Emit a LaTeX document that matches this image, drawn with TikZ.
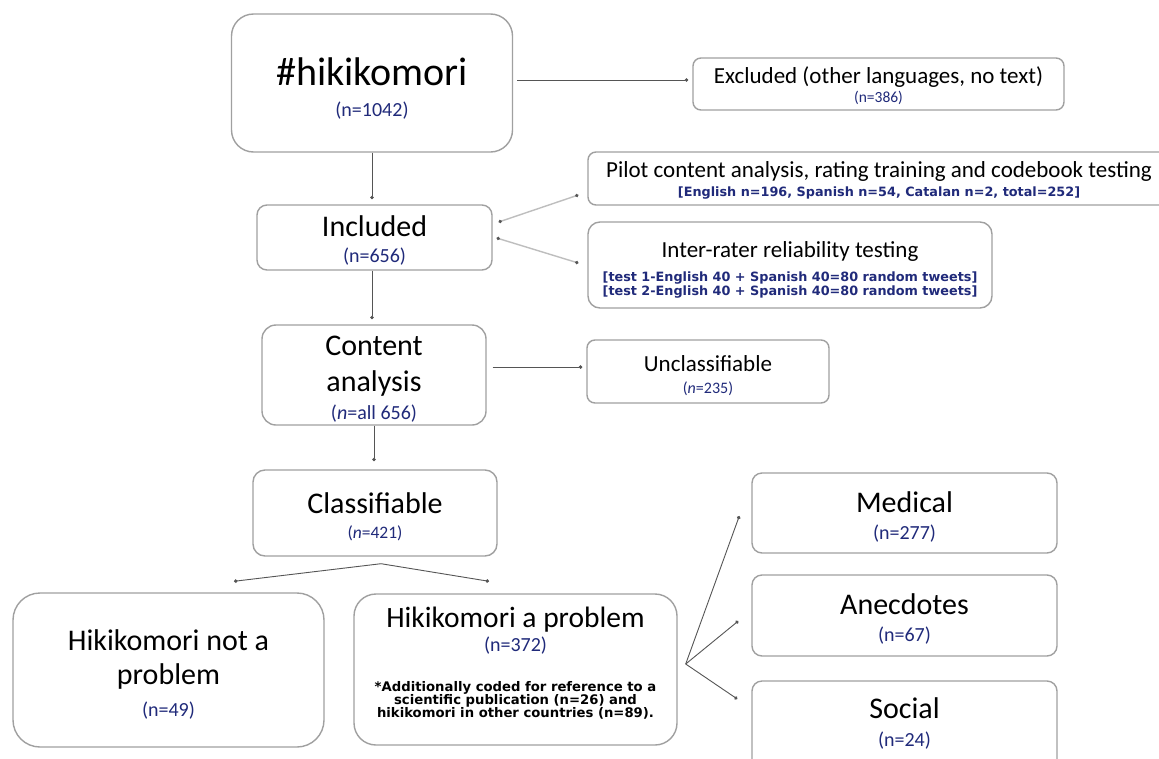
\documentclass[tikz,border=0pt]{standalone}
\usepackage{fontspec}
\setmainfont{Carlito}
\newfontfamily\dvs{DejaVu Sans}
\usetikzlibrary{arrows.meta,calc}
\definecolor{nblue}{RGB}{32,42,122}
\definecolor{bordergray}{RGB}{160,160,160}
\definecolor{linegray}{RGB}{85,85,85}
\definecolor{lightline}{RGB}{190,190,190}
\newcommand\fsz[2]{\fontsize{#1}{#2}\selectfont}
\newcommand\tightlines{\lineskiplimit=-100pt\relax\lineskip=0pt\relax}
\newcommand\nb{\color{nblue}}
\newcommand\bigt{\fsz{30}{30}}
\newcommand\midt{\fsz{23}{23}}
\newcommand\nbig{\fsz{20}{20}\nb}
\newcommand\subt{\dvs\bfseries\fsz{12.8}{12.8}\nb}
\newcommand\notet{\dvs\bfseries\fsz{13.2}{13.2}}
\tikzset{
  box/.style={draw=bordergray, line width=1.4pt, fill=white, rounded corners=10pt,
    align=center, inner sep=0pt, text=black, font=\fsz{10}{0},
    execute at begin node=\tightlines},
  conn/.style={draw=linegray, line width=0.9pt, -{Circle[length=3.5pt]}},
  lconn/.style={draw=lightline, line width=1.4pt,
    {Circle[length=3.2pt,color=linegray]}-{Circle[length=3.2pt,color=linegray]}},
}
\begin{document}
\begin{tikzpicture}[x=1pt,y=-1pt]
\useasboundingbox (0,0) rectangle (1159,758);
\clip (0,0) rectangle (1159,758);
\fill[white] (0,0) rectangle (1159,758);

\node[box, rounded corners=22pt, minimum width=281pt, minimum height=138pt] (hik) at (372,83)
  {\mbox{}\\[35pt]\fsz{40}{40}\#hikikomori\\[31pt]\nbig(n=1042)\\[0pt]\mbox{}};
\node[box, rounded corners=8pt, minimum width=371pt, minimum height=52pt] (exc) at (878.5,84)
  {\mbox{}\\[17pt]\midt Excluded (other languages, no text)\\[19pt]\fsz{15.5}{15.5}\nb(n=386)\\[0pt]\mbox{}};
\node[box, rounded corners=8pt, minimum width=582pt, minimum height=53pt] (pilot) at (879,178.5)
  {\mbox{}\\[16pt]\midt Pilot content analysis, rating training and codebook testing\\[19pt]\subt[English n=196, Spanish n=54, Catalan n=2, total=252]\\[0pt]\mbox{}};
\node[box, minimum width=235pt, minimum height=65pt] (inc) at (374.5,237.5)
  {\mbox{}\\[23pt]\bigt Included\\[26pt]\nbig(n=656)\\[0pt]\mbox{}};
\node[box, rounded corners=12pt, minimum width=404pt, minimum height=86pt] (inter) at (790,265)
  {\mbox{}\\[22pt]\midt Inter-rater reliability testing\\[24pt]\subt[test 1-English 40 + Spanish 40=80 random tweets]\\[14pt]\subt[test 2-English 40 + Spanish 40=80 random tweets]\\[0pt]\mbox{}};
\node[box, rounded corners=14pt, minimum width=224pt, minimum height=100pt] (content) at (374,375)
  {\mbox{}\\[24pt]\bigt Content\\[36pt]\bigt analysis\\[28pt]\nbig(\textit{n}=all 656)\\[0pt]\mbox{}};
\node[box, rounded corners=8pt, minimum width=242pt, minimum height=63pt] (uncl) at (708,371.5)
  {\mbox{}\\[21pt]\midt Unclassifiable\\[22pt]\fsz{16}{16}\nb(\textit{n}=235)\\[0pt]\mbox{}};
\node[box, rounded corners=12pt, minimum width=244pt, minimum height=86pt] (class) at (375,513)
  {\mbox{}\\[25pt]\bigt Classifiable\\[25pt]\fsz{17.5}{17.5}\nb(\textit{n}=421)\\[0pt]\mbox{}};
\node[box, rounded corners=27pt, minimum width=311pt, minimum height=154pt] (notp) at (168.5,670)
  {\mbox{}\\[26pt]\bigt Hikikomori not a\\[34pt]\bigt problem\\[32pt]\nbig(n=49)\\[0pt]\mbox{}};
\node[box, rounded corners=22pt, minimum width=323pt, minimum height=151pt] (prob) at (515.5,669.5)
  {\mbox{}\\[5pt]\fsz{29.5}{29.5}Hikikomori a problem\\[24pt]\nbig(n=372)\\[40pt]\notet*Additionally coded for reference to a\\[13pt]\notet scientific publication (n=26) and\\[13pt]\notet hikikomori in other countries (n=89).\\[0pt]\mbox{}};
\node[box, minimum width=305pt, minimum height=80pt] (med) at (904.5,513)
  {\mbox{}\\[25pt]\bigt Medical\\[27pt]\nbig(n=277)\\[0pt]\mbox{}};
\node[box, minimum width=305pt, minimum height=81pt] (anec) at (904.5,615.5)
  {\mbox{}\\[24pt]\bigt Anecdotes\\[27pt]\nbig(n=67)\\[0pt]\mbox{}};
\node[box, minimum width=305pt, minimum height=88pt] (soc) at (904.5,725)
  {\mbox{}\\[14pt]\bigt Social\\[28pt]\nbig(n=24)\\[0pt]\mbox{}};

% connectors
\draw[conn, shorten <=4pt, shorten >=4pt] ($(hik.east |- exc.west)+(0,-4)$) -- ($(exc.west)+(0,-4)$);
\draw[conn, shorten >=5pt] (hik.south) -- (hik.south |- inc.north);
\draw[conn, shorten >=5pt] (inc.south -| hik.south) -- (content.north -| hik.south);
\draw[lconn] ($(pilot.west)+(-9,16.5)$) -- ($(inc.east)+(6,-15.5)$);
\draw[lconn] ($(inter.west)+(-9,-2)$) -- ($(inc.east)+(4,0.5)$);
\draw[conn, shorten <=6pt, shorten >=4pt] ($(content.east |- uncl.west)+(0,-4.5)$) -- ($(uncl.west)+(0,-4.5)$);
\draw[conn, shorten >=8pt] (content.south) -- (content.south |- class.north);

\coordinate (split) at ($(class.south)+(6,7)$);
\coordinate (notpin) at ($(notp.north)+(65.5,-11)$);
\coordinate (probin) at ($(prob.north)+(-26.5,-12)$);
\draw[conn] (split) -- (notpin);
\draw[conn] (split) -- (probin);

\coordinate (fan) at ($(prob.east)+(8,-5.5)$);
\coordinate (medin) at ($(med.west)+(-12,3)$);
\coordinate (anecin) at ($(anec.west)+(-13,5.5)$);
\coordinate (socin) at ($(soc.west)+(-14,-26)$);
\draw[conn] (fan) -- (medin);
\draw[conn] (fan) -- (anecin);
\draw[conn] (fan) -- (socin);
\end{tikzpicture}
\end{document}
